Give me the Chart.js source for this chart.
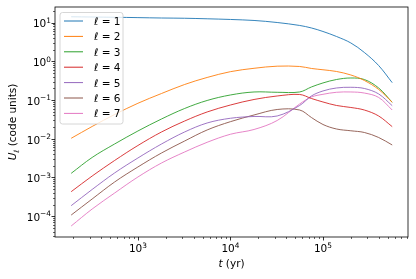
<!DOCTYPE html>
<html><head><meta charset="utf-8">
<script src="https://cdn.jsdelivr.net/npm/chart.js@4"></script>
<style>html,body{margin:0;padding:0;background:#fff;}#c{display:block;}</style>
</head><body>
<canvas id="c" width="416" height="279"></canvas>
<script>
const years = [190, 320, 560, 1000, 1800, 3200, 5600, 10000, 18000, 32000, 56000, 75000, 100000, 140000, 200000, 280000, 400000, 560000];
const l1 = [14.2, 14.0, 13.8, 13.5, 13.2, 13.0, 12.6, 12.1, 11.4, 10.1, 8.47, 7.3, 5.92, 4.4, 2.99, 1.70, 0.78, 0.282];
const l2 = [0.0103, 0.0208, 0.0424, 0.0827, 0.148, 0.253, 0.384, 0.542, 0.663, 0.751, 0.738, 0.656, 0.607, 0.548, 0.445, 0.321, 0.188, 0.0877];
const l3 = [1.28e-3, 3.29e-3, 7.34e-3, 0.0159, 0.0325, 0.0607, 0.0977, 0.1355, 0.162, 0.159, 0.162, 0.218, 0.277, 0.340, 0.372, 0.340, 0.2055, 0.0877];
const l4 = [4.30e-4, 1.09e-3, 2.75e-3, 6.71e-3, 0.0150, 0.0288, 0.0493, 0.0746, 0.1036, 0.1276, 0.1396, 0.110, 0.0893, 0.0725, 0.0644, 0.0554, 0.0388, 0.0206];
const l5 = [1.87e-4, 4.90e-4, 1.31e-3, 3.19e-3, 7.34e-3, 0.0150, 0.0256, 0.0339, 0.0377, 0.0388, 0.0725, 0.1276, 0.172, 0.2055, 0.214, 0.1995, 0.144, 0.0717];
const l6 = [1.07e-4, 2.78e-4, 7.65e-4, 1.87e-3, 4.30e-3, 8.77e-3, 0.0169, 0.0277, 0.0412, 0.0571, 0.0554, 0.0355, 0.0234, 0.0179, 0.0161, 0.01455, 0.0108, 6.92e-3];
const l7 = [5.58e-5, 1.53e-4, 3.97e-4, 1.03e-3, 2.37e-3, 4.56e-3, 8.12e-3, 0.0131, 0.0174, 0.0297, 0.0793, 0.120, 0.141, 0.159, 0.162, 0.152, 0.117, 0.0554];
const seriesLabels = ['1', '2', '3', '4', '5', '6', '7'];
const seriesColors = ['#1f77b4', '#ff7f0e', '#2ca02c', '#d62728', '#9467bd', '#8c564b', '#e377c2'];
const xTickExps = [3, 4, 5];
const yTickExps = [-4, -3, -2, -1, 0, 1];
const xTitle = ['t', ' (yr)'];
const yTitle = ['U', 'ℓ', ' (code units)'];

const allSeries = [l1, l2, l3, l4, l5, l6, l7];
const FONT = '"DejaVu Sans", sans-serif';

const datasets = allSeries.map((s, i) => ({
  label: seriesLabels[i],
  data: years.map((t, j) => ({x: t, y: s[j]})),
  borderColor: seriesColors[i],
  backgroundColor: seriesColors[i],
  borderWidth: 0.9,
  pointRadius: 0,
  tension: 0.35,
  fill: false
}));

function expStr(e){ return e < 0 ? '\u2212' + Math.abs(e) : String(e); }

const decor = {
  id: 'decor',
  afterDatasetsDraw(chart){
    const ctx = chart.ctx;
    const lx = 60, ly = 12.5, lw = 63, lh = 111.5, r = 2.5;
    ctx.save();
    ctx.beginPath();
    ctx.moveTo(lx + r, ly);
    ctx.arcTo(lx + lw, ly, lx + lw, ly + lh, r);
    ctx.arcTo(lx + lw, ly + lh, lx, ly + lh, r);
    ctx.arcTo(lx, ly + lh, lx, ly, r);
    ctx.arcTo(lx, ly, lx + lw, ly, r);
    ctx.closePath();
    ctx.fillStyle = 'rgba(255,255,255,0.8)';
    ctx.fill();
    ctx.strokeStyle = '#cccccc';
    ctx.lineWidth = 0.8;
    ctx.stroke();
    chart.data.datasets.forEach((ds, i) => {
      const y = 21 + i * 15.4;
      ctx.strokeStyle = ds.borderColor;
      ctx.lineWidth = 1;
      ctx.beginPath(); ctx.moveTo(64, y); ctx.lineTo(83, y); ctx.stroke();
      ctx.fillStyle = '#000';
      ctx.textBaseline = 'alphabetic';
      ctx.textAlign = 'left';
      ctx.font = 'italic 10.5px ' + FONT;
      ctx.fillText('ℓ', 94, y + 4);
      const w = ctx.measureText('ℓ').width;
      ctx.font = '10.5px ' + FONT;
      ctx.fillText(' = ' + ds.label, 94 + w, y + 4);
    });
    ctx.restore();
  },
  afterDraw(chart){
    const ctx = chart.ctx, a = chart.chartArea, xs = chart.scales.x, ys = chart.scales.y;
    ctx.save();
    ctx.strokeStyle = '#000';
    ctx.lineWidth = 0.8;
    ctx.strokeRect(a.left, a.top, a.right - a.left, a.bottom - a.top);
    for (let d = 1; d <= 6; d++) {
      for (let k = 1; k <= 9; k++) {
        const v = k * Math.pow(10, d);
        if (v < xs.min || v > xs.max) continue;
        const px = Math.round(xs.getPixelForValue(v)) + 0.5;
        const len = k === 1 ? 3.5 : 2;
        ctx.lineWidth = k === 1 ? 0.8 : 0.6;
        ctx.beginPath(); ctx.moveTo(px, a.bottom); ctx.lineTo(px, a.bottom + len); ctx.stroke();
      }
    }
    for (let d = -5; d <= 2; d++) {
      for (let k = 1; k <= 9; k++) {
        const v = k * Math.pow(10, d);
        if (v < ys.min || v > ys.max) continue;
        const py = Math.round(ys.getPixelForValue(v)) + 0.5;
        const len = k === 1 ? 3.5 : 2;
        ctx.lineWidth = k === 1 ? 0.8 : 0.6;
        ctx.beginPath(); ctx.moveTo(a.left, py); ctx.lineTo(a.left - len, py); ctx.stroke();
      }
    }
    ctx.fillStyle = '#000';
    ctx.textBaseline = 'alphabetic';
    ctx.textAlign = 'left';
    const big = '10.5px ' + FONT, small = '7.4px ' + FONT;
    xTickExps.forEach(e => {
      const px = xs.getPixelForValue(Math.pow(10, e));
      ctx.font = big; const w1 = ctx.measureText('10').width;
      ctx.font = small; const w2 = ctx.measureText(expStr(e)).width;
      const x0 = px - (w1 + w2) / 2;
      ctx.font = big; ctx.fillText('10', x0, 252);
      ctx.font = small; ctx.fillText(expStr(e), x0 + w1, 247.5);
    });
    yTickExps.forEach(e => {
      const py = ys.getPixelForValue(Math.pow(10, e));
      ctx.font = big; const w1 = ctx.measureText('10').width;
      ctx.font = small; const w2 = ctx.measureText(expStr(e)).width;
      const x0 = 51 - (w1 + w2);
      ctx.font = big; ctx.fillText('10', x0, py + 4.8);
      ctx.font = small; ctx.fillText(expStr(e), x0 + w1, py + 0.3);
    });
    ctx.font = 'italic 10.5px ' + FONT; const wt = ctx.measureText(xTitle[0]).width;
    ctx.font = '10.5px ' + FONT; const wr = ctx.measureText(xTitle[1]).width;
    const cx = (a.left + a.right) / 2;
    let x0 = cx - (wt + wr) / 2;
    ctx.font = 'italic 10.5px ' + FONT; ctx.fillText(xTitle[0], x0, 267);
    ctx.font = '10.5px ' + FONT; ctx.fillText(xTitle[1], x0 + wt, 267);
    ctx.translate(16, (a.top + a.bottom) / 2);
    ctx.rotate(-Math.PI / 2);
    ctx.font = 'italic 10.5px ' + FONT; const wu = ctx.measureText(yTitle[0]).width;
    ctx.font = 'italic 7.4px ' + FONT; const wl = ctx.measureText(yTitle[1]).width;
    ctx.font = '10.5px ' + FONT; const wc = ctx.measureText(yTitle[2]).width;
    let s = -(wu + wl + wc) / 2;
    ctx.font = 'italic 10.5px ' + FONT; ctx.fillText(yTitle[0], s, 0);
    ctx.font = 'italic 7.4px ' + FONT; ctx.fillText(yTitle[1], s + wu, 2.5);
    ctx.font = '10.5px ' + FONT; ctx.fillText(yTitle[2], s + wu + wl, 0);
    ctx.restore();
  }
};

new Chart(document.getElementById('c'), {
  type: 'line',
  data: { datasets },
  options: {
    responsive: false,
    animation: false,
    layout: { padding: { left: 0, right: 8, top: 7, bottom: 0 } },
    plugins: { legend: { display: false }, tooltip: { enabled: false } },
    scales: {
      x: { type: 'logarithmic', min: 127, max: 830000, bounds: 'data',
           grid: { display: false }, border: { display: false }, ticks: { display: false },
           afterFit(s) { s.height = 42; } },
      y: { type: 'logarithmic', min: 2.9e-5, max: 25.4, bounds: 'data',
           grid: { display: false }, border: { display: false }, ticks: { display: false },
           afterFit(s) { s.width = 55; } }
    }
  },
  plugins: [decor]
});
</script>
</body></html>
